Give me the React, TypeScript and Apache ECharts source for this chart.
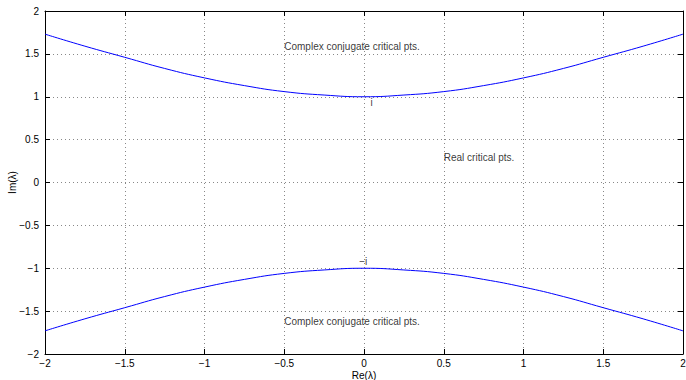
import React, { useEffect, useRef } from "react";
import * as echarts from "echarts";

const xs = [-2, -1.75, -1.5, -1.25, -1, -0.75, -0.5, -0.25, 0, 0.25, 0.5, 0.75, 1, 1.25, 1.5, 1.75, 2];
const upper = [1.73, 1.59, 1.46, 1.33, 1.22, 1.13, 1.06, 1.02, 1.0, 1.02, 1.06, 1.13, 1.22, 1.33, 1.46, 1.59, 1.73];
const lower = [-1.73, -1.59, -1.46, -1.33, -1.22, -1.13, -1.06, -1.02, -1.0, -1.02, -1.06, -1.13, -1.22, -1.33, -1.46, -1.59, -1.73];
const annotations: [number, number, string][] = [
  [-0.5, 1.59, "Complex conjugate critical pts."],
  [0.04, 0.93, "i"],
  [0.5, 0.29, "Real critical pts."],
  [-0.03, -0.92, "\u2212i"],
  [-0.5, -1.62, "Complex conjugate critical pts."],
];

const FONT = "Liberation Sans, Arial, Helvetica, sans-serif";
const fmt = (v: number) => String(v).replace("-", "\u2212");

export default function App() {
  const ref = useRef<HTMLDivElement>(null);
  useEffect(() => {
    document.body.style.margin = "0";
    const chart = echarts.init(ref.current!, null, { renderer: "svg" });
    const axisCommon = {
      type: "value" as const,
      min: -2,
      max: 2,
      interval: 0.5,
      axisLine: { show: true, onZero: false, lineStyle: { color: "#000", width: 1 } },
      axisTick: { show: true, inside: true, length: 5, lineStyle: { color: "#000" } },
    };
    chart.setOption({
      animation: false,
      textStyle: { fontFamily: FONT },
      grid: { left: 45, right: 3, top: 11, bottom: 26, containLabel: false, outerBoundsMode: "none" },
      xAxis: [
        {
          ...axisCommon,
          position: "bottom",
          name: "Re(\u03bb)",
          nameLocation: "middle",
          nameGap: 16,
          nameMoveOverlap: false,
          nameTextStyle: { fontSize: 10, color: "#000", fontFamily: FONT },
          axisLabel: { formatter: fmt, fontSize: 10, color: "#000", margin: 4, fontFamily: FONT },
          splitLine: { show: true, lineStyle: { type: [1, 3], color: "#888", width: 1 } },
        },
        {
          ...axisCommon,
          position: "top",
          axisLabel: { show: false },
          splitLine: { show: false },
        },
      ],
      yAxis: [
        {
          ...axisCommon,
          position: "left",
          name: "Im(\u03bb)",
          nameLocation: "middle",
          nameGap: 28,
          nameMoveOverlap: false,
          nameTextStyle: { fontSize: 10, color: "#000", fontFamily: FONT },
          axisLabel: { formatter: fmt, fontSize: 10, color: "#000", margin: 6, fontFamily: FONT },
          splitLine: { show: true, lineStyle: { type: [1, 3], color: "#888", width: 1 } },
        },
        {
          ...axisCommon,
          position: "right",
          axisLabel: { show: false },
          splitLine: { show: false },
        },
      ],
      series: [
        {
          type: "line",
          data: xs.map((x, i) => [x, upper[i]]),
          smooth: true,
          showSymbol: false,
          lineStyle: { color: "#0000ff", width: 1 },
        },
        {
          type: "line",
          data: xs.map((x, i) => [x, lower[i]]),
          smooth: true,
          showSymbol: false,
          lineStyle: { color: "#0000ff", width: 1 },
        },
        {
          type: "scatter",
          symbolSize: 0,
          data: annotations.map((a) => ({ value: [a[0], a[1]], name: a[2] })),
          label: {
            show: true,
            position: "right",
            distance: 0,
            formatter: (p: any) => p.name,
            fontSize: 10,
            color: "#000",
            textBorderWidth: 0,
            fontFamily: FONT,
          },
          silent: true,
        },
      ],
    });
    return () => chart.dispose();
  }, []);
  return <div ref={ref} style={{ width: 686, height: 380 }} />;
}
